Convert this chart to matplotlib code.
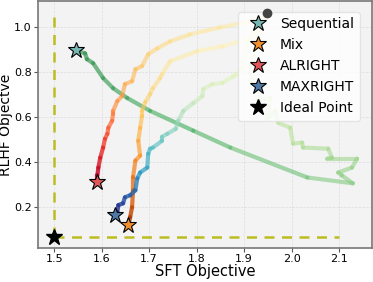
import numpy as np
import matplotlib
matplotlib.use("Agg")
from matplotlib import pyplot as plt
from matplotlib.collections import LineCollection

# start point shared by all runs
start_x, start_y = 1.948, 1.060
ideal_x, ideal_y = 1.50, 0.065

seq_x = [1.948, 1.938, 1.925, 1.915, 1.913, 1.938, 1.929, 1.955, 1.948, 1.965, 1.972, 1.997,
         2.003, 2.022, 2.024, 2.077, 2.085, 2.075, 2.138, 2.127, 2.098, 2.106, 2.129, 2.033,
         1.871, 1.793, 1.702, 1.654, 1.624, 1.603, 1.582, 1.569, 1.565, 1.546]
seq_y = [1.060, 1.000, 0.930, 0.830, 0.759, 0.733, 0.671, 0.684, 0.592, 0.627, 0.574, 0.552,
         0.481, 0.486, 0.464, 0.459, 0.419, 0.415, 0.415, 0.375, 0.353, 0.340, 0.305, 0.331,
         0.464, 0.539, 0.627, 0.684, 0.728, 0.773, 0.839, 0.857, 0.883, 0.896]

mix_x = [1.948, 1.913, 1.854, 1.801, 1.744, 1.727, 1.723, 1.708, 1.702, 1.692, 1.685, 1.685,
         1.681, 1.677, 1.681, 1.671, 1.666, 1.666, 1.664, 1.660, 1.656]
mix_y = [1.060, 0.949, 0.914, 0.892, 0.848, 0.790, 0.773, 0.728, 0.702, 0.667, 0.627, 0.605,
         0.552, 0.494, 0.428, 0.406, 0.331, 0.274, 0.199, 0.155, 0.119]

alr_x = [1.948, 1.913, 1.849, 1.786, 1.744, 1.717, 1.698, 1.685, 1.671, 1.664, 1.649, 1.643,
         1.633, 1.624, 1.624, 1.622, 1.614, 1.612, 1.607, 1.603, 1.597, 1.593, 1.591, 1.591]
alr_y = [1.060, 1.024, 0.998, 0.967, 0.936, 0.905, 0.879, 0.826, 0.812, 0.759, 0.746, 0.693,
         0.671, 0.627, 0.614, 0.583, 0.552, 0.525, 0.503, 0.464, 0.419, 0.375, 0.340, 0.309]

max_x = [1.948, 1.929, 1.908, 1.896, 1.885, 1.877, 1.854, 1.833, 1.814, 1.812, 1.793, 1.772,
         1.761, 1.756, 1.738, 1.727, 1.727, 1.708, 1.702, 1.698, 1.696, 1.681, 1.675, 1.671,
         1.660, 1.649, 1.645, 1.635, 1.633, 1.628]
max_y = [1.060, 1.002, 0.936, 0.817, 0.790, 0.781, 0.751, 0.746, 0.724, 0.693, 0.662, 0.627,
         0.583, 0.547, 0.525, 0.512, 0.494, 0.464, 0.459, 0.437, 0.375, 0.353, 0.327, 0.274,
         0.252, 0.243, 0.216, 0.208, 0.177, 0.163]

labels = ["Sequential", "Mix", "ALRIGHT", "MAXRIGHT"]
star_cols = ["#76b7b2", "#f28e2b", "#e15759", "#4e79a7"]


def path(ax, xs, ys, cmap, lo, hi, gamma, a0, a1):
    xs = np.array(xs); ys = np.array(ys)
    pts = np.column_stack([xs, ys])
    segs = np.stack([pts[:-1], pts[1:]], axis=1)
    d = np.hypot(np.diff(xs) / 0.7, np.diff(ys) / 1.1)
    t = (np.cumsum(d) - d / 2) / d.sum()
    t = t ** gamma
    cols = plt.get_cmap(cmap)(lo + (hi - lo) * t)
    cols[:, 3] = a0 + (a1 - a0) * t
    lc = LineCollection(segs, colors=cols, linewidths=3.0, capstyle="round", joinstyle="round")
    ax.add_collection(lc)


fig = plt.figure(figsize=(3.73, 2.82), dpi=100)
ax = fig.add_axes([0.102, 0.121, 0.895, 0.875])
ax.set_facecolor("#f3f3f3")
ax.grid(True, ls="--", lw=0.5, color="#dddddd")
ax.set_axisbelow(True)

ax.plot([ideal_x, ideal_x], [ideal_y, 1.06], ls="--", color="#bcbd22", lw=1.8, dashes=(4, 3))
ax.plot([ideal_x, 2.10], [ideal_y, ideal_y], ls="--", color="#bcbd22", lw=1.8, dashes=(4, 3))

path(ax, seq_x, seq_y, "YlGn", 0.2, 0.72, 1.0, 0.5, 0.65)
path(ax, mix_x, mix_y, "YlOrBr", 0.15, 0.85, 2.0, 0.5, 0.85)
path(ax, alr_x, alr_y, "YlOrRd", 0.15, 0.92, 2.0, 0.5, 0.85)
path(ax, max_x, max_y, "YlGnBu", 0.12, 0.92, 2.2, 0.5, 0.85)

ax.plot(start_x, start_y, "o", color="#444444", ms=6, zorder=10)

ends = [(seq_x[-1], seq_y[-1]), (mix_x[-1], mix_y[-1]), (alr_x[-1], alr_y[-1]), (max_x[-1], max_y[-1])]
for (ex, ey), c, lab in zip(ends, star_cols, labels):
    ax.plot(ex, ey, "*", ms=12, mfc=c, mec="black", mew=0.8, ls="none", label=lab, zorder=6)
ax.plot(ideal_x, ideal_y, "*", ms=12, mfc="black", mec="black", ls="none", label="Ideal Point", zorder=6)

ax.set_xlim(1.466, 2.169)
ax.set_ylim(0.018, 1.115)
ax.set_xticks([1.5, 1.6, 1.7, 1.8, 1.9, 2.0, 2.1])
ax.set_yticks([0.2, 0.4, 0.6, 0.8, 1.0])
ax.tick_params(labelsize=8, length=3, pad=1.5, color="#555555")
for s in ax.spines.values():
    s.set_color("#777777")
    s.set_linewidth(1.2)

ax.set_xlabel("SFT Objective", fontsize=10.5, labelpad=0)
ax.set_ylabel("RLHF Objectve", fontsize=10)
ax.yaxis.set_label_coords(-0.076, 0.5)
leg = ax.legend(loc="upper right", fontsize=10, handletextpad=0.6, borderpad=0.4,
                labelspacing=0.5, framealpha=0.8, edgecolor="#e0e0e0", bbox_to_anchor=(0.985, 0.985))
leg.set_zorder(8)

plt.savefig("out.png", dpi=100)
